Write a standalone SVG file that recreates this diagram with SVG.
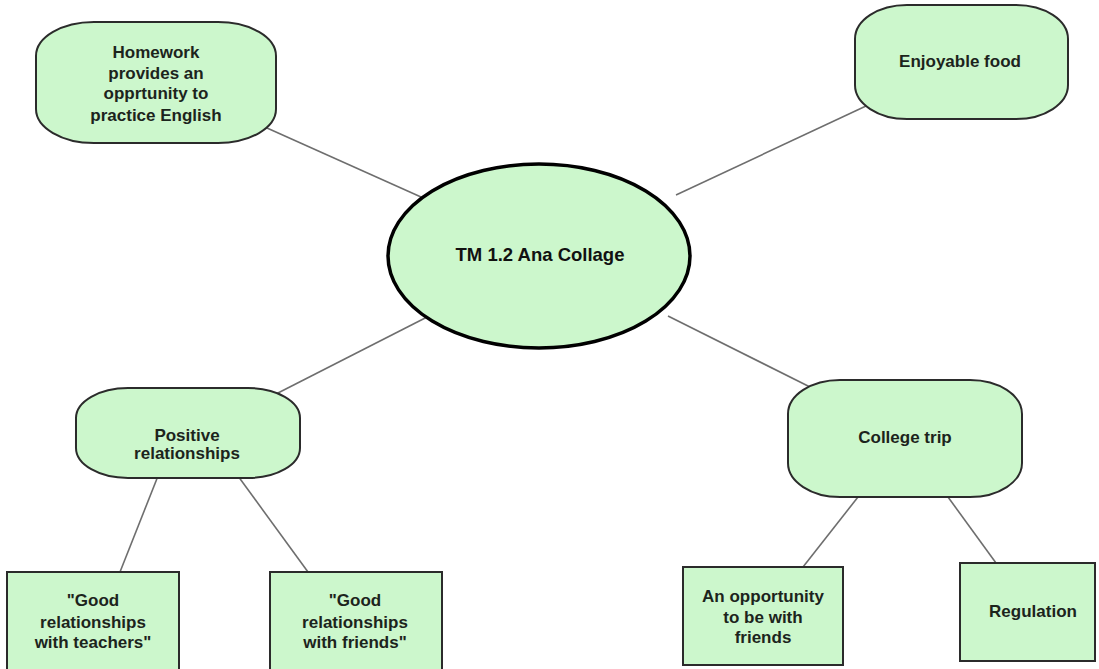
<svg xmlns="http://www.w3.org/2000/svg" width="1099" height="669" viewBox="0 0 1099 669">
  <style>
    .bg { fill: #ffffff; }
    .round { fill: #ccf7cc; stroke: #2b2b2b; stroke-width: 2; }
    .box { fill: #ccf7cc; stroke: #2b2b2b; stroke-width: 2; }
    .hub { fill: #ccf7cc; stroke: #000000; stroke-width: 3.5; }
    .link { stroke: #6e6e6e; stroke-width: 1.6; fill: none; }
    text { font-family: "Liberation Sans", Arial, sans-serif; font-weight: bold; font-size: 17px; fill: #1c241c; text-anchor: middle; }
    .hubtext { font-size: 18.5px; fill: #111111; }
  </style>
  <rect class="bg" x="0" y="0" width="1099" height="669"/>

  <!-- connectors -->
  <g id="connectors">
    <line class="link" x1="267" y1="128" x2="421" y2="197"/>
    <line class="link" x1="866" y1="106" x2="676" y2="195"/>
    <line class="link" x1="433" y1="314" x2="276" y2="394"/>
    <line class="link" x1="668" y1="316" x2="812" y2="388"/>
    <line class="link" x1="158" y1="476" x2="120" y2="572"/>
    <line class="link" x1="238" y1="476" x2="308" y2="572"/>
    <line class="link" x1="858" y1="497" x2="803" y2="567"/>
    <line class="link" x1="948" y1="497" x2="996" y2="563"/>
  </g>

  <g id="hub">
    <ellipse class="hub" cx="539" cy="256" rx="151" ry="92"/>
    <text class="hubtext" x="540" y="261">TM 1.2 Ana Collage</text>
  </g>

  <g id="homework">
    <rect class="round" x="36" y="22" width="240" height="121" rx="58" ry="34"/>
    <text x="156" y="58">Homework</text>
    <text x="156" y="79">provides an</text>
    <text x="156" y="99">opprtunity to</text>
    <text x="156" y="121">practice English</text>
  </g>

  <g id="food">
    <rect class="round" x="855" y="5" width="213" height="114" rx="52" ry="34"/>
    <text x="960" y="67">Enjoyable food</text>
  </g>

  <g id="positive">
    <rect class="round" x="76" y="388" width="224" height="90" rx="52" ry="30"/>
    <text x="187" y="441">Positive</text>
    <text x="187" y="459">relationships</text>
  </g>

  <g id="trip">
    <rect class="round" x="788" y="380" width="234" height="117" rx="52" ry="34"/>
    <text x="905" y="443">College trip</text>
  </g>

  <g id="teachers">
    <rect class="box" x="7" y="572" width="172" height="98"/>
    <text x="93" y="606">"Good</text>
    <text x="93" y="628">relationships</text>
    <text x="93" y="648">with teachers"</text>
  </g>

  <g id="friends">
    <rect class="box" x="270" y="572" width="172" height="98"/>
    <text x="355" y="606">"Good</text>
    <text x="355" y="628">relationships</text>
    <text x="355" y="648">with friends"</text>
  </g>

  <g id="opportunity">
    <rect class="box" x="683" y="567" width="160" height="98"/>
    <text x="763" y="602">An opportunity</text>
    <text x="763" y="623">to be with</text>
    <text x="763" y="643">friends</text>
  </g>

  <g id="regulation">
    <rect class="box" x="960" y="563" width="135" height="98"/>
    <text x="1033" y="617">Regulation</text>
  </g>
</svg>
